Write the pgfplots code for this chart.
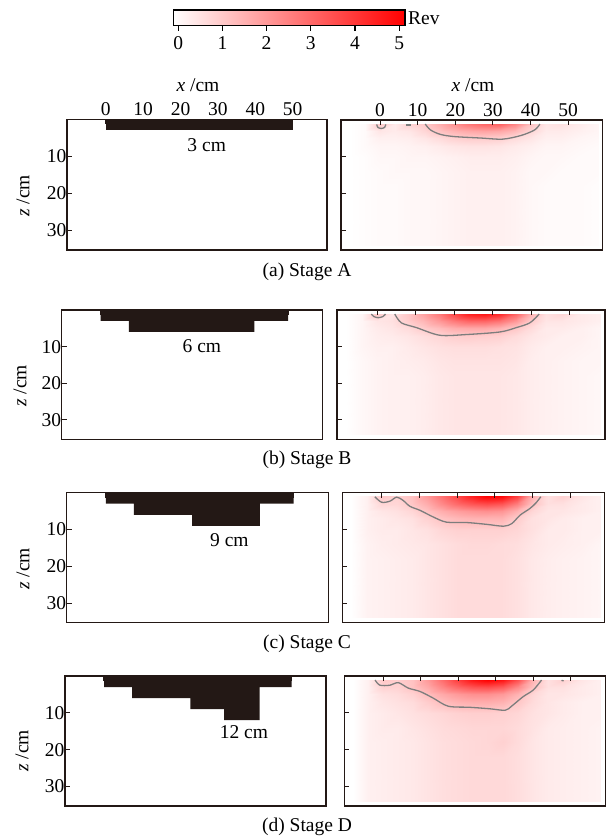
\documentclass[border=0pt]{standalone}
\usepackage{fontspec}
\setmainfont{Liberation Serif}
\usepackage{pgfplots}
\usepackage{pgfplotstable}
\pgfplotsset{compat=1.18}

\definecolor{barcol}{RGB}{35,24,21}
\definecolor{framecol}{RGB}{35,24,21}
\definecolor{contcol}{RGB}{125,125,125}

% heat values (Rev), rows z = 1,3,5,7,10,14,18,22,26,30,34
\pgfplotstableread[row sep=\\]{
x z v\\
-8 1 0\\ -4 1 0.1\\ 0 1 1.1\\ 4 1 0.4\\ 8 1 0.9\\ 12 1 1.05\\ 16 1 1.6\\ 20 1 2.2\\ 24 1 2.7\\ 28 1 3.0\\ 32 1 3.1\\ 36 1 2.4\\ 40 1 1.2\\ 44 1 0.5\\ 48 1 0.6\\ 53 1 0.4\\ 58 1 0.2\\
-8 3 0\\ -4 3 0.1\\ 0 3 0.5\\ 4 3 0.4\\ 8 3 0.5\\ 12 3 0.8\\ 16 3 1.2\\ 20 3 1.5\\ 24 3 1.7\\ 28 3 1.8\\ 32 3 1.7\\ 36 3 1.4\\ 40 3 0.8\\ 44 3 0.4\\ 48 3 0.4\\ 53 3 0.3\\ 58 3 0.2\\
-8 5 0\\ -4 5 0.1\\ 0 5 0.3\\ 4 5 0.3\\ 8 5 0.35\\ 12 5 0.5\\ 16 5 0.7\\ 20 5 0.9\\ 24 5 1.0\\ 28 5 1.0\\ 32 5 0.95\\ 36 5 0.7\\ 40 5 0.5\\ 44 5 0.3\\ 48 5 0.3\\ 53 5 0.2\\ 58 5 0.15\\
-8 7 0\\ -4 7 0.1\\ 0 7 0.2\\ 4 7 0.2\\ 8 7 0.25\\ 12 7 0.3\\ 16 7 0.4\\ 20 7 0.5\\ 24 7 0.55\\ 28 7 0.55\\ 32 7 0.5\\ 36 7 0.4\\ 40 7 0.3\\ 44 7 0.2\\ 48 7 0.2\\ 53 7 0.15\\ 58 7 0.1\\
-8 10 0\\ -4 10 0.05\\ 0 10 0.15\\ 4 10 0.15\\ 8 10 0.2\\ 12 10 0.2\\ 16 10 0.25\\ 20 10 0.3\\ 24 10 0.35\\ 28 10 0.35\\ 32 10 0.35\\ 36 10 0.3\\ 40 10 0.2\\ 44 10 0.15\\ 48 10 0.15\\ 53 10 0.1\\ 58 10 0.1\\
-8 14 0\\ -4 14 0.05\\ 0 14 0.1\\ 4 14 0.15\\ 8 14 0.15\\ 12 14 0.15\\ 16 14 0.2\\ 20 14 0.25\\ 24 14 0.3\\ 28 14 0.3\\ 32 14 0.3\\ 36 14 0.25\\ 40 14 0.15\\ 44 14 0.15\\ 48 14 0.1\\ 53 14 0.1\\ 58 14 0.1\\
-8 18 0\\ -4 18 0.05\\ 0 18 0.1\\ 4 18 0.1\\ 8 18 0.15\\ 12 18 0.15\\ 16 18 0.2\\ 20 18 0.25\\ 24 18 0.3\\ 28 18 0.3\\ 32 18 0.3\\ 36 18 0.25\\ 40 18 0.15\\ 44 18 0.1\\ 48 18 0.1\\ 53 18 0.1\\ 58 18 0.05\\
-8 22 0\\ -4 22 0.05\\ 0 22 0.1\\ 4 22 0.1\\ 8 22 0.15\\ 12 22 0.15\\ 16 22 0.2\\ 20 22 0.25\\ 24 22 0.3\\ 28 22 0.3\\ 32 22 0.3\\ 36 22 0.25\\ 40 22 0.15\\ 44 22 0.1\\ 48 22 0.1\\ 53 22 0.1\\ 58 22 0.05\\
-8 26 0\\ -4 26 0.05\\ 0 26 0.1\\ 4 26 0.1\\ 8 26 0.15\\ 12 26 0.15\\ 16 26 0.2\\ 20 26 0.25\\ 24 26 0.3\\ 28 26 0.3\\ 32 26 0.3\\ 36 26 0.25\\ 40 26 0.15\\ 44 26 0.1\\ 48 26 0.1\\ 53 26 0.1\\ 58 26 0.05\\
-8 30 0\\ -4 30 0.05\\ 0 30 0.1\\ 4 30 0.1\\ 8 30 0.15\\ 12 30 0.15\\ 16 30 0.2\\ 20 30 0.25\\ 24 30 0.3\\ 28 30 0.3\\ 32 30 0.3\\ 36 30 0.25\\ 40 30 0.15\\ 44 30 0.1\\ 48 30 0.1\\ 53 30 0.1\\ 58 30 0.05\\
-8 34 0\\ -4 34 0.05\\ 0 34 0.1\\ 4 34 0.1\\ 8 34 0.15\\ 12 34 0.15\\ 16 34 0.2\\ 20 34 0.25\\ 24 34 0.3\\ 28 34 0.3\\ 32 34 0.3\\ 36 34 0.25\\ 40 34 0.15\\ 44 34 0.1\\ 48 34 0.1\\ 53 34 0.1\\ 58 34 0.05\\
}\heatA

\pgfplotstableread[row sep=\\]{
x z v\\
-8 1 0\\ -4 1 0.2\\ 0 1 1.1\\ 4 1 0.5\\ 8 1 1.1\\ 12 1 1.8\\ 16 1 2.6\\ 20 1 3.6\\ 24 1 4.4\\ 28 1 4.6\\ 32 1 4.2\\ 36 1 3.0\\ 40 1 1.5\\ 44 1 0.6\\ 48 1 0.8\\ 53 1 0.4\\ 58 1 0.3\\
-8 3 0\\ -4 3 0.2\\ 0 3 0.5\\ 4 3 0.6\\ 8 3 1.0\\ 12 3 1.4\\ 16 3 2.0\\ 20 3 2.6\\ 24 3 3.0\\ 28 3 3.0\\ 32 3 2.7\\ 36 3 2.0\\ 40 3 1.0\\ 44 3 0.5\\ 48 3 0.5\\ 53 3 0.4\\ 58 3 0.3\\
-8 5 0\\ -4 5 0.2\\ 0 5 0.4\\ 4 5 0.5\\ 8 5 0.7\\ 12 5 1.0\\ 16 5 1.3\\ 20 5 1.6\\ 24 5 1.7\\ 28 5 1.7\\ 32 5 1.5\\ 36 5 1.1\\ 40 5 0.7\\ 44 5 0.4\\ 48 5 0.4\\ 53 5 0.3\\ 58 5 0.2\\
-8 7 0\\ -4 7 0.2\\ 0 7 0.35\\ 4 7 0.4\\ 8 7 0.5\\ 12 7 0.65\\ 16 7 0.8\\ 20 7 0.95\\ 24 7 1.0\\ 28 7 0.95\\ 32 7 0.9\\ 36 7 0.7\\ 40 7 0.5\\ 44 7 0.4\\ 48 7 0.3\\ 53 7 0.3\\ 58 7 0.2\\
-8 10 0\\ -4 10 0.2\\ 0 10 0.3\\ 4 10 0.3\\ 8 10 0.4\\ 12 10 0.5\\ 16 10 0.6\\ 20 10 0.65\\ 24 10 0.65\\ 28 10 0.65\\ 32 10 0.6\\ 36 10 0.55\\ 40 10 0.4\\ 44 10 0.3\\ 48 10 0.3\\ 53 10 0.25\\ 58 10 0.2\\
-8 14 0\\ -4 14 0.15\\ 0 14 0.25\\ 4 14 0.3\\ 8 14 0.35\\ 12 14 0.4\\ 16 14 0.5\\ 20 14 0.55\\ 24 14 0.55\\ 28 14 0.55\\ 32 14 0.55\\ 36 14 0.5\\ 40 14 0.35\\ 44 14 0.3\\ 48 14 0.25\\ 53 14 0.2\\ 58 14 0.2\\
-8 18 0\\ -4 18 0.15\\ 0 18 0.25\\ 4 18 0.3\\ 8 18 0.3\\ 12 18 0.35\\ 16 18 0.45\\ 20 18 0.5\\ 24 18 0.5\\ 28 18 0.5\\ 32 18 0.5\\ 36 18 0.45\\ 40 18 0.35\\ 44 18 0.3\\ 48 18 0.25\\ 53 18 0.2\\ 58 18 0.15\\
-8 22 0\\ -4 22 0.15\\ 0 22 0.25\\ 4 22 0.3\\ 8 22 0.3\\ 12 22 0.35\\ 16 22 0.45\\ 20 22 0.5\\ 24 22 0.5\\ 28 22 0.5\\ 32 22 0.5\\ 36 22 0.45\\ 40 22 0.35\\ 44 22 0.3\\ 48 22 0.25\\ 53 22 0.2\\ 58 22 0.15\\
-8 26 0\\ -4 26 0.15\\ 0 26 0.25\\ 4 26 0.3\\ 8 26 0.3\\ 12 26 0.35\\ 16 26 0.45\\ 20 26 0.5\\ 24 26 0.5\\ 28 26 0.5\\ 32 26 0.5\\ 36 26 0.45\\ 40 26 0.35\\ 44 26 0.3\\ 48 26 0.25\\ 53 26 0.2\\ 58 26 0.15\\
-8 30 0\\ -4 30 0.15\\ 0 30 0.25\\ 4 30 0.3\\ 8 30 0.3\\ 12 30 0.35\\ 16 30 0.45\\ 20 30 0.5\\ 24 30 0.5\\ 28 30 0.5\\ 32 30 0.5\\ 36 30 0.45\\ 40 30 0.35\\ 44 30 0.3\\ 48 30 0.25\\ 53 30 0.2\\ 58 30 0.15\\
-8 34 0\\ -4 34 0.15\\ 0 34 0.25\\ 4 34 0.3\\ 8 34 0.3\\ 12 34 0.35\\ 16 34 0.45\\ 20 34 0.5\\ 24 34 0.5\\ 28 34 0.5\\ 32 34 0.5\\ 36 34 0.45\\ 40 34 0.35\\ 44 34 0.3\\ 48 34 0.25\\ 53 34 0.2\\ 58 34 0.15\\
}\heatB

\pgfplotstableread[row sep=\\]{
x z v\\
-8 1 0\\ -4 1 0.3\\ 0 1 1.1\\ 4 1 0.9\\ 8 1 1.2\\ 12 1 2.0\\ 16 1 2.8\\ 20 1 3.6\\ 24 1 4.4\\ 28 1 5.0\\ 32 1 4.9\\ 36 1 3.8\\ 40 1 1.6\\ 44 1 0.6\\ 48 1 0.9\\ 53 1 0.5\\ 58 1 0.3\\
-8 3 0\\ -4 3 0.3\\ 0 3 0.8\\ 4 3 0.8\\ 8 3 1.1\\ 12 3 1.6\\ 16 3 2.3\\ 20 3 2.9\\ 24 3 3.3\\ 28 3 3.5\\ 32 3 3.3\\ 36 3 2.5\\ 40 3 1.2\\ 44 3 0.6\\ 48 3 0.6\\ 53 3 0.4\\ 58 3 0.3\\
-8 5 0\\ -4 5 0.3\\ 0 5 0.5\\ 4 5 0.6\\ 8 5 0.8\\ 12 5 1.2\\ 16 5 1.6\\ 20 5 1.9\\ 24 5 2.1\\ 28 5 2.2\\ 32 5 2.1\\ 36 5 1.5\\ 40 5 0.8\\ 44 5 0.5\\ 48 5 0.5\\ 53 5 0.4\\ 58 5 0.3\\
-8 7 0\\ -4 7 0.3\\ 0 7 0.4\\ 4 7 0.5\\ 8 7 0.6\\ 12 7 0.9\\ 16 7 1.2\\ 20 7 1.4\\ 24 7 1.5\\ 28 7 1.5\\ 32 7 1.5\\ 36 7 1.0\\ 40 7 0.6\\ 44 7 0.5\\ 48 7 0.4\\ 53 7 0.3\\ 58 7 0.3\\
-8 10 0\\ -4 10 0.3\\ 0 10 0.4\\ 4 10 0.4\\ 8 10 0.5\\ 12 10 0.6\\ 16 10 0.8\\ 20 10 0.9\\ 24 10 0.9\\ 28 10 0.9\\ 32 10 0.9\\ 36 10 0.8\\ 40 10 0.6\\ 44 10 0.4\\ 48 10 0.4\\ 53 10 0.3\\ 58 10 0.3\\
-8 14 0\\ -4 14 0.25\\ 0 14 0.35\\ 4 14 0.4\\ 8 14 0.45\\ 12 14 0.5\\ 16 14 0.6\\ 20 14 0.7\\ 24 14 0.75\\ 28 14 0.75\\ 32 14 0.7\\ 36 14 0.65\\ 40 14 0.5\\ 44 14 0.4\\ 48 14 0.35\\ 53 14 0.3\\ 58 14 0.2\\
-8 18 0\\ -4 18 0.25\\ 0 18 0.3\\ 4 18 0.35\\ 8 18 0.4\\ 12 18 0.5\\ 16 18 0.6\\ 20 18 0.7\\ 24 18 0.7\\ 28 18 0.7\\ 32 18 0.7\\ 36 18 0.6\\ 40 18 0.45\\ 44 18 0.35\\ 48 18 0.3\\ 53 18 0.25\\ 58 18 0.2\\
-8 22 0\\ -4 22 0.25\\ 0 22 0.3\\ 4 22 0.35\\ 8 22 0.4\\ 12 22 0.5\\ 16 22 0.6\\ 20 22 0.7\\ 24 22 0.7\\ 28 22 0.7\\ 32 22 0.7\\ 36 22 0.6\\ 40 22 0.45\\ 44 22 0.35\\ 48 22 0.3\\ 53 22 0.25\\ 58 22 0.2\\
-8 26 0\\ -4 26 0.25\\ 0 26 0.3\\ 4 26 0.35\\ 8 26 0.4\\ 12 26 0.5\\ 16 26 0.6\\ 20 26 0.7\\ 24 26 0.7\\ 28 26 0.7\\ 32 26 0.7\\ 36 26 0.6\\ 40 26 0.45\\ 44 26 0.35\\ 48 26 0.3\\ 53 26 0.25\\ 58 26 0.2\\
-8 30 0\\ -4 30 0.25\\ 0 30 0.3\\ 4 30 0.35\\ 8 30 0.4\\ 12 30 0.5\\ 16 30 0.6\\ 20 30 0.7\\ 24 30 0.7\\ 28 30 0.7\\ 32 30 0.7\\ 36 30 0.6\\ 40 30 0.45\\ 44 30 0.35\\ 48 30 0.3\\ 53 30 0.25\\ 58 30 0.2\\
-8 34 0\\ -4 34 0.25\\ 0 34 0.3\\ 4 34 0.35\\ 8 34 0.4\\ 12 34 0.5\\ 16 34 0.6\\ 20 34 0.7\\ 24 34 0.7\\ 28 34 0.7\\ 32 34 0.7\\ 36 34 0.6\\ 40 34 0.45\\ 44 34 0.35\\ 48 34 0.3\\ 53 34 0.25\\ 58 34 0.2\\
}\heatC

\pgfplotstableread[row sep=\\]{
x z v\\
-8 1 0\\ -4 1 0.3\\ 0 1 1.1\\ 4 1 1.0\\ 8 1 1.2\\ 12 1 2.0\\ 16 1 2.9\\ 20 1 3.8\\ 24 1 4.6\\ 28 1 5.0\\ 32 1 4.6\\ 36 1 3.4\\ 40 1 1.5\\ 44 1 0.6\\ 48 1 0.9\\ 53 1 0.5\\ 58 1 0.3\\
-8 3 0\\ -4 3 0.3\\ 0 3 0.9\\ 4 3 0.9\\ 8 3 1.2\\ 12 3 1.7\\ 16 3 2.4\\ 20 3 3.0\\ 24 3 3.4\\ 28 3 3.5\\ 32 3 3.2\\ 36 3 2.3\\ 40 3 1.2\\ 44 3 0.6\\ 48 3 0.6\\ 53 3 0.4\\ 58 3 0.3\\
-8 5 0\\ -4 5 0.3\\ 0 5 0.6\\ 4 5 0.7\\ 8 5 0.9\\ 12 5 1.3\\ 16 5 1.7\\ 20 5 2.0\\ 24 5 2.2\\ 28 5 2.2\\ 32 5 2.0\\ 36 5 1.5\\ 40 5 0.8\\ 44 5 0.5\\ 48 5 0.5\\ 53 5 0.4\\ 58 5 0.3\\
-8 7 0\\ -4 7 0.3\\ 0 7 0.5\\ 4 7 0.6\\ 8 7 0.7\\ 12 7 1.0\\ 16 7 1.3\\ 20 7 1.5\\ 24 7 1.6\\ 28 7 1.6\\ 32 7 1.5\\ 36 7 1.1\\ 40 7 0.7\\ 44 7 0.5\\ 48 7 0.4\\ 53 7 0.3\\ 58 7 0.3\\
-8 10 0\\ -4 10 0.3\\ 0 10 0.4\\ 4 10 0.5\\ 8 10 0.6\\ 12 10 0.7\\ 16 10 0.8\\ 20 10 0.9\\ 24 10 0.95\\ 28 10 0.95\\ 32 10 0.9\\ 36 10 0.8\\ 40 10 0.6\\ 44 10 0.5\\ 48 10 0.4\\ 53 10 0.3\\ 58 10 0.3\\
-8 14 0\\ -4 14 0.3\\ 0 14 0.4\\ 4 14 0.4\\ 8 14 0.5\\ 12 14 0.6\\ 16 14 0.7\\ 20 14 0.75\\ 24 14 0.8\\ 28 14 0.8\\ 32 14 0.8\\ 36 14 0.7\\ 40 14 0.55\\ 44 14 0.4\\ 48 14 0.35\\ 53 14 0.3\\ 58 14 0.25\\
-8 18 0\\ -4 18 0.3\\ 0 18 0.35\\ 4 18 0.4\\ 8 18 0.45\\ 12 18 0.55\\ 16 18 0.65\\ 20 18 0.7\\ 24 18 0.75\\ 28 18 0.8\\ 32 18 0.9\\ 36 18 0.7\\ 40 18 0.5\\ 44 18 0.4\\ 48 18 0.35\\ 53 18 0.3\\ 58 18 0.25\\
-8 22 0\\ -4 22 0.3\\ 0 22 0.35\\ 4 22 0.4\\ 8 22 0.45\\ 12 22 0.55\\ 16 22 0.65\\ 20 22 0.7\\ 24 22 0.75\\ 28 22 0.75\\ 32 22 0.75\\ 36 22 0.65\\ 40 22 0.5\\ 44 22 0.4\\ 48 22 0.35\\ 53 22 0.3\\ 58 22 0.25\\
-8 26 0\\ -4 26 0.3\\ 0 26 0.35\\ 4 26 0.4\\ 8 26 0.45\\ 12 26 0.55\\ 16 26 0.65\\ 20 26 0.7\\ 24 26 0.75\\ 28 26 0.75\\ 32 26 0.75\\ 36 26 0.65\\ 40 26 0.5\\ 44 26 0.4\\ 48 26 0.35\\ 53 26 0.3\\ 58 26 0.25\\
-8 30 0\\ -4 30 0.3\\ 0 30 0.35\\ 4 30 0.4\\ 8 30 0.45\\ 12 30 0.55\\ 16 30 0.65\\ 20 30 0.7\\ 24 30 0.75\\ 28 30 0.75\\ 32 30 0.75\\ 36 30 0.65\\ 40 30 0.5\\ 44 30 0.4\\ 48 30 0.35\\ 53 30 0.3\\ 58 30 0.25\\
-8 34 0\\ -4 34 0.3\\ 0 34 0.35\\ 4 34 0.4\\ 8 34 0.45\\ 12 34 0.55\\ 16 34 0.65\\ 20 34 0.7\\ 24 34 0.75\\ 28 34 0.75\\ 32 34 0.75\\ 36 34 0.65\\ 40 34 0.5\\ 44 34 0.4\\ 48 34 0.35\\ 53 34 0.3\\ 58 34 0.25\\
}\heatD

\newcommand{\fs}{\fontsize{19.5}{23}\selectfont}

\pgfplotsset{
  panel/.style={
    scale only axis, anchor=south west,
    xmin=-10.4, xmax=59.2, ymin=0, ymax=35.3, y dir=reverse,
    axis line style={framecol, line width=1.1pt},
    every tick/.style={framecol, line width=1.1pt},
    major tick length=5pt, tick align=inside,
    xtick={0,10,...,50}, ytick={10,20,30},
    xtick pos=right, ytick pos=left,
    xticklabel pos=right,
    xticklabels={}, yticklabels={},
    yticklabel style={xshift=3pt},
    font=\fs, ticklabel style={font=\fs},
    /pgf/number format/assume math mode=true,
    axis on top, clip=true,
  },
  heat/.style={
    colormap={wr}{rgb255=(255,255,255) rgb255=(255,0,0)},
    point meta min=0, point meta max=5,
  },
  leftlab/.style={yticklabels={10,20,30}},
  toplab/.style={xticklabels={0,10,20,30,40,50}},
  hmap/.style={surf, shader=interp, mesh/cols=17, point meta=explicit},
  cont/.style={contcol, line width=1.3pt, smooth, tension=0.5},
}

\begin{document}
\begin{tikzpicture}[font=\fs]
\path[use as bounding box] (0,0) rectangle (606pt,837pt);

% colour bar
\begin{axis}[scale only axis, anchor=south west, at={(173.3pt,811.3pt)},
  width=231.7pt, height=15.7pt, heat,
  xmin=-0.11, xmax=5.13, ymin=0, ymax=1, ytick=\empty,
  xtick={0,1,2,3,4,5}, xtick pos=left, tick align=outside,
  major tick length=5pt,
  axis line style={black, line width=1.1pt},
  every tick/.style={black, line width=1.1pt},
  font=\fs, ticklabel style={font=\fs},
  xticklabel style={yshift=-2.5pt},
  /pgf/number format/assume math mode=true, axis on top]
\addplot[surf, shader=interp, mesh/cols=2, point meta=explicit]
  table[meta=v, row sep=\\]{x y v\\ -0.11 0 0\\ 5.13 0 5\\ -0.11 1 0\\ 5.13 1 5\\};
\end{axis}
\node[anchor=west, inner sep=1pt] at (407pt,819pt) {Rev};

% ---- Stage A
\begin{axis}[panel, leftlab, toplab, at={(67pt,587pt)}, width=260pt, height=130.7pt]
\addplot[fill=barcol, draw=none] coordinates {(0,0) (50,0) (50,3) (0,3)} -- cycle;
\node at (axis cs:27,7.1) {3 cm};
\end{axis}
\begin{axis}[panel, heat, toplab, at={(341pt,587pt)}, width=261.7pt, height=130pt]
\addplot[hmap] table[meta=v] {\heatA};
\addplot[cont] coordinates {(12,1.1) (13.4,2.7) (16,3.9) (19.7,4.5) (26.8,4.9) (32.6,5.2) (37.5,4.2) (41.1,2.7) (42.5,1.1)};
\addplot[cont] coordinates {(-0.9,1.2) (-0.6,2.0) (0.3,2.3) (1.2,2.0) (1.5,1.2)};
\addplot[cont] coordinates {(7,1.4) (8.2,1.4)};
\end{axis}
\node at (198pt,752pt) {\textit{x} /cm};
\node at (473pt,752pt) {\textit{x} /cm};
\node[rotate=90] at (23pt,641pt) {\textit{z} /cm};
\node at (307pt,565.3pt) {(a) Stage A};

% ---- Stage B
\begin{axis}[panel, leftlab, at={(61.7pt,397.7pt)}, width=261pt, height=129.3pt]
\addplot[fill=barcol, draw=none] coordinates {(0,0) (50,0) (50,3) (41,3) (41,6) (7.5,6) (7.5,3) (0,3)} -- cycle;
\node at (axis cs:27,10) {6 cm};
\end{axis}
\begin{axis}[panel, heat, at={(337pt,397.7pt)}, width=268pt, height=129.3pt]
\addplot[hmap] table[meta=v] {\heatB};
\addplot[cont] coordinates {(4.6,1.1) (6.3,3.5) (10.2,4.8) (16.3,6.9) (23.2,6.7) (31.9,6.0) (36.2,4.8) (39.7,3.5) (42.1,1.1)};
\addplot[cont] coordinates {(-1.5,1.1) (-0.8,1.8) (0.3,2.1) (1.5,1.8) (2.2,1.1)};
\end{axis}
\node[rotate=90] at (20pt,451pt) {\textit{z} /cm};
\node at (307pt,376.7pt) {(b) Stage B};

% ---- Stage C
\begin{axis}[panel, leftlab, at={(66.7pt,214.3pt)}, width=261.6pt, height=130pt]
\addplot[fill=barcol, draw=none] coordinates {(0,0) (50,0) (50,3) (41,3) (41,9) (23,9) (23,6) (7.5,6) (7.5,3) (0,3)} -- cycle;
\node at (axis cs:32.9,13) {9 cm};
\end{axis}
\begin{axis}[panel, heat, at={(342.4pt,214.3pt)}, width=262.5pt, height=130pt]
\addplot[hmap] table[meta=v] {\heatC};
\addplot[cont] coordinates {(-1.8,1.1) (0,2.6) (2.2,2.3) (4,1.2) (5.7,2.1) (7.5,3.7) (10.2,4.8) (13.7,6.6) (17.2,8) (22.5,8.1) (27.9,8.6) (32.3,9.1) (34.5,8.4) (36.7,6.1) (39.3,4.3) (40.9,2.8) (42.2,1.1)};
\end{axis}
\node[rotate=90] at (23pt,268pt) {\textit{z} /cm};
\node at (307pt,193.3pt) {(c) Stage C};

% ---- Stage D
\begin{axis}[panel, leftlab, at={(65pt,31pt)}, width=261pt, height=130pt]
\addplot[fill=barcol, draw=none] coordinates {(0,0) (50,0) (50,3) (41.5,3) (41.5,12) (32,12) (32,9) (23,9) (23,6) (7.5,6) (7.5,3) (0,3)} -- cycle;
\node at (axis cs:37.3,15.3) {12 cm};
\end{axis}
\begin{axis}[panel, heat, at={(344.3pt,31pt)}, width=261pt, height=130pt]
\addplot[hmap] table[meta=v] {\heatD};
\addplot[cont] coordinates {(-2.2,1.1) (-0.9,2.5) (1.8,2.5) (4,1.8) (6.7,3.3) (9.8,4.2) (13.3,6) (17.3,8.2) (23.1,8.5) (28.4,8.9) (32.5,9.3) (34.2,8.2) (37.3,5.6) (40,3.8) (42.2,1.1)};
\addplot[cont] coordinates {(47.5,1.2) (48.1,1.3)};
\end{axis}
\node[rotate=90] at (22pt,86pt) {\textit{z} /cm};
\node at (307pt,10pt) {(d) Stage D};
\end{tikzpicture}
\end{document}
